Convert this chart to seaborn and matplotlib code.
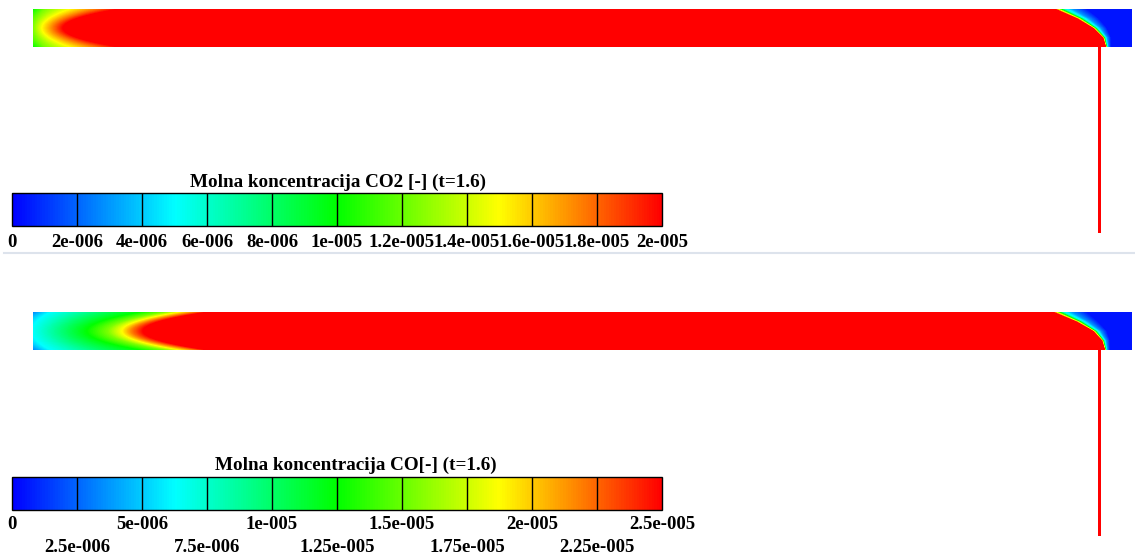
import numpy as np
import matplotlib
matplotlib.use("Agg")
import matplotlib.pyplot as plt
import seaborn as sns
from matplotlib.colors import LinearSegmentedColormap, Normalize
from matplotlib.cm import ScalarMappable
from matplotlib.lines import Line2D

W, H = 1135, 556

# colour scale used by the solver (blue -> cyan -> green -> yellow -> red)
scale_colors = ["#0000ff", "#00ffff", "#00ff00", "#ffff00", "#ff0000"]

# --- CO2 ---
co2_title = "Molna koncentracija CO2 [-] (t=1.6)"
co2_vmax = 2e-5
co2_ticks = [0, 2e-6, 4e-6, 6e-6, 8e-6, 1e-5, 1.2e-5, 1.4e-5, 1.6e-5, 1.8e-5, 2e-5]
co2_ticklabels = ["0", "2e-006", "4e-006", "6e-006", "8e-006", "1e-005",
                  "1.2e-005", "1.4e-005", "1.6e-005", "1.8e-005", "2e-005"]
# inlet: fraction of max vs axial pixel position, on the axis and at the wall
co2_in_levels = [0.5, 0.62, 0.75, 0.88, 1.0]
co2_in_center = [20, 33, 42, 53, 63]
co2_in_wall = [33, 45, 70, 95, 118]
# outlet front (s = 0 bottom wall, s = 1 top wall)
co2_front_s = [0.0, 0.25, 0.5, 0.75, 1.0]
co2_front_x = [1106, 1103, 1093, 1077, 1055]
co2_front_w = [5, 8, 14, 22, 32]

# --- CO ---
co_title = "Molna koncentracija CO[-] (t=1.6)"
co_vmax = 2.5e-5
co_major = [0, 5e-6, 1e-5, 1.5e-5, 2e-5, 2.5e-5]
co_major_labels = ["0", "5e-006", "1e-005", "1.5e-005", "2e-005", "2.5e-005"]
co_minor = [2.5e-6, 7.5e-6, 1.25e-5, 1.75e-5, 2.25e-5]
co_minor_labels = ["2.5e-006", "7.5e-006", "1.25e-005", "1.75e-005", "2.25e-005"]
co_in_levels = [0.12, 0.25, 0.4, 0.5, 0.62, 0.75, 0.88, 1.0]
co_in_center = [10, 32, 65, 87, 108, 122, 132, 143]
co_in_wall = [32, 50, 100, 140, 165, 180, 195, 207]
co_front_s = [0.0, 0.25, 0.5, 0.75, 1.0]
co_front_x = [1105, 1102, 1093, 1076, 1053]
co_front_w = [5, 8, 14, 22, 34]

# decay of concentration ahead of the outlet front (distance / front width)
front_d = [0.0, 0.1, 0.2, 0.3, 0.55, 1.0]
front_v = [1.0, 0.75, 0.5, 0.3, 0.15, 0.02]

# geometry in pixels
strip_x0, strip_x1 = 33, 1132
pipe_x0, pipe_x1 = 1098, 1101
panels = [
    dict(top=9, bottom=47, pipe_end=233, cbar_top=193, title_x=338, title_y=182,
         title=co2_title, vmax=co2_vmax, pad=6,
         major=co2_ticks, major_labels=co2_ticklabels, minor=[], minor_labels=[],
         lev=co2_in_levels, xc=co2_in_center, xw=co2_in_wall,
         fs=co2_front_s, fx=co2_front_x, fw=co2_front_w),
    dict(top=312, bottom=350, pipe_end=536, cbar_top=477, title_x=356, title_y=465,
         title=co_title, vmax=co_vmax, pad=4,
         major=co_major, major_labels=co_major_labels,
         minor=co_minor, minor_labels=co_minor_labels,
         lev=co_in_levels, xc=co_in_center, xw=co_in_wall,
         fs=co_front_s, fx=co_front_x, fw=co_front_w),
]

cmap = LinearSegmentedColormap.from_list("fluent", scale_colors)
plt.rcParams["font.family"] = ["Liberation Serif", "DejaVu Serif"]


def build_field(p):
    xs = np.arange(strip_x0, strip_x1) + 0.5
    ys = np.arange(p["top"], p["pipe_end"]) + 0.5
    field = np.full((len(ys), len(xs)), np.nan)
    h = p["bottom"] - p["top"]
    yc = (p["top"] + p["bottom"]) / 2
    xc = np.array(p["xc"], float)
    xw = np.array(p["xw"], float)
    for i, y in enumerate(ys):
        if y < p["bottom"]:
            r = abs(y - yc) / (h / 2)
            pos = xc + (xw - xc) * r ** 2
            inlet = np.interp(xs, pos, p["lev"])
            s = (p["bottom"] - y) / h
            xf = np.interp(s, p["fs"], p["fx"])
            wf = np.interp(s, p["fs"], p["fw"])
            outlet = np.interp((xs - xf) / wf, front_d, front_v)
            field[i] = np.minimum(inlet, outlet) * p["vmax"]
        else:
            field[i, (xs > pipe_x0) & (xs < pipe_x1)] = p["vmax"]
    return field


fig = plt.figure(figsize=(W / 100, H / 100), dpi=100)

for p in panels:
    field = build_field(p)
    ax = fig.add_axes([strip_x0 / W, 1 - p["pipe_end"] / H,
                       (strip_x1 - strip_x0) / W, (p["pipe_end"] - p["top"]) / H])
    sns.heatmap(field, ax=ax, cmap=cmap, vmin=0, vmax=p["vmax"], cbar=False,
                mask=np.isnan(field), xticklabels=False, yticklabels=False)
    ax.set_axis_off()

    # colour bar with 10 bands
    cax = fig.add_axes([12 / W, 1 - (p["cbar_top"] + 33) / H, 650 / W, 33 / H])
    cb = fig.colorbar(ScalarMappable(Normalize(0, p["vmax"]), cmap), cax=cax,
                      orientation="horizontal")
    cb.outline.set_linewidth(1)
    bands = sorted(p["major"] + p["minor"])
    for t in bands[1:-1]:
        cax.axvline(t, color="black", lw=1)
    cax.set_xticks(p["major"])
    cax.set_xticklabels(p["major_labels"], fontsize=13.5, fontweight="bold")
    cax.set_xticks(p["minor"], minor=True)
    cax.set_xticklabels(p["minor_labels"], minor=True, fontsize=13.5, fontweight="bold")
    cax.tick_params(which="major", length=0, pad=p["pad"])
    cax.tick_params(which="minor", length=0, pad=p["pad"] + 17)
    fig.text(p["title_x"] / W, 1 - p["title_y"] / H, p["title"], ha="center",
             va="center", fontsize=13.8, fontweight="bold")

# separator between the two views
fig.add_artist(Line2D([4 / W, 1], [1 - 253 / H] * 2, color="#dde3ec", lw=1.5))

fig.savefig("out.png", dpi=100)
